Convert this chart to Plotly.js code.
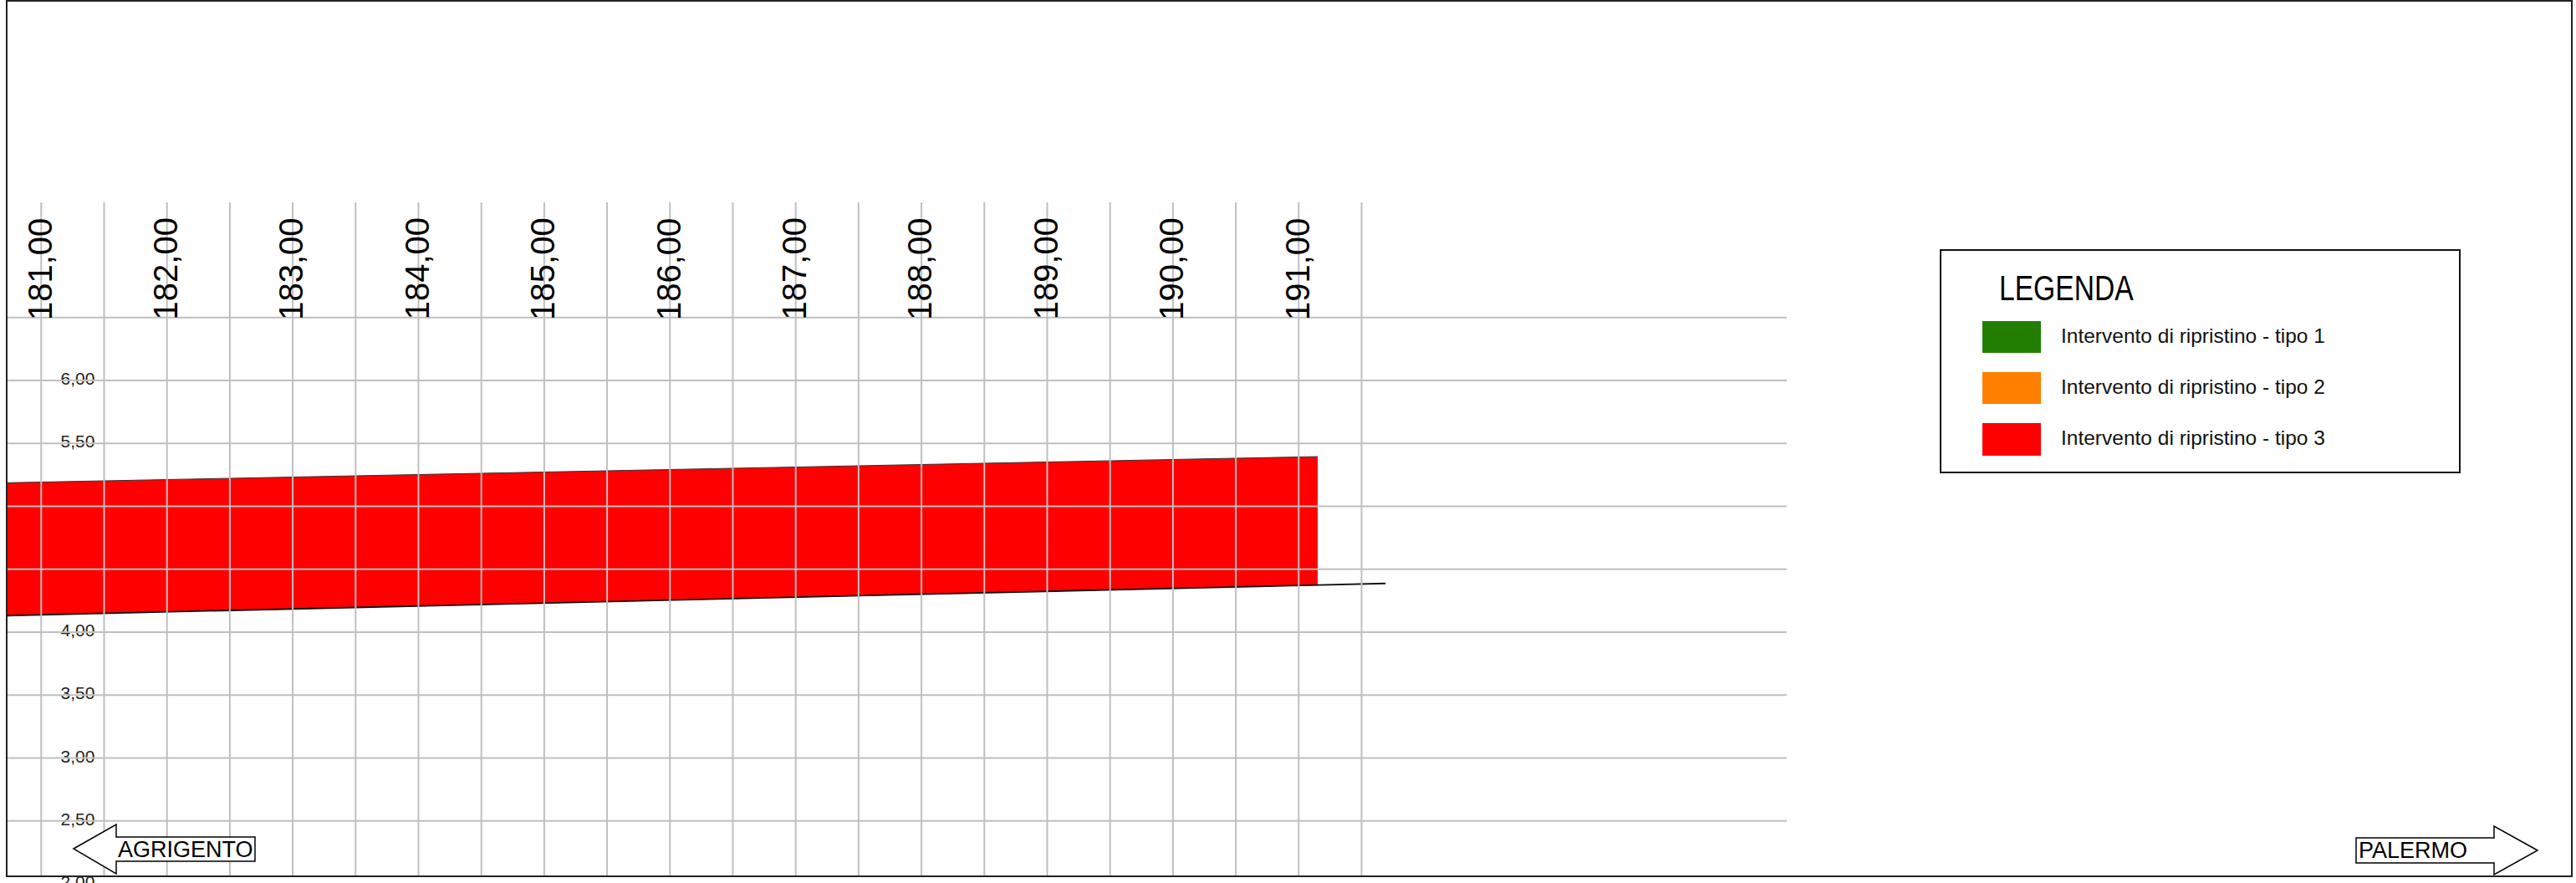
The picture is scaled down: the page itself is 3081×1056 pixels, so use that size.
<!DOCTYPE html>
<html><head><meta charset="utf-8">
<script src="https://cdn.plot.ly/plotly-3.0.1.min.js"></script>
<style>html,body{margin:0;padding:0;background:#fff;overflow:hidden}#chart{width:3081px;height:1056px}</style>
</head><body><div id="chart"></div>
<script>
// ---- data ----
const progressive = [181, 182, 183, 184, 185, 186, 187, 188, 189, 190, 191];
const progressiveLabels = ['181,00','182,00','183,00','184,00','185,00','186,00','187,00','188,00','189,00','190,00','191,00'];
const gridX = [181, 181.5, 182, 182.5, 183, 183.5, 184, 184.5, 185, 185.5, 186, 186.5, 187, 187.5, 188, 188.5, 189, 189.5, 190, 190.5, 191, 191.5];
const gridY = [2.5, 3.0, 3.5, 4.0, 4.5, 5.0, 5.5, 6.0, 6.5];
const quotaTicks = [2.0, 2.5, 3.0, 3.5, 4.0, 4.5, 5.0, 5.5, 6.0];
const quotaLabels = ['2,00','2,50','3,00','3,50','4,00','4,50','5,00','5,50','6,00'];
const interventoX = [180.725, 191.151];
const interventoTop = [5.187, 5.395];
const interventoBottom = [4.131, 4.372];
const profiloX = [180.725, 191.151, 191.691];
const profiloY = [4.131, 4.372, 4.387];
const legendItems = ['Intervento di ripristino - tipo 1', 'Intervento di ripristino - tipo 2', 'Intervento di ripristino - tipo 3'];
const legendColors = ['#217e00', '#ff8000', '#ff0000'];
const directions = ['AGRIGENTO', 'PALERMO'];

// ---- layout helpers ----
const W = 3081, H = 1056;
const XR = [180.6722, 201.1576], YR = [2.0061, 9.0237];
const P = px => px / W;
const Q = py => 1 - py / H;
const gridTopY = 7.4155, gridBottomY = 2.059, gridLeftX = 180.7254, gridRightX = 194.881;
const labelX = 181.29;
const FONT = 'Liberation Sans, Arial, sans-serif';

const vx = [], vy = [];
gridX.forEach(v => { vx.push(v, v, null); vy.push(gridBottomY, gridTopY, null); });
const hx = [], hy = [];
gridY.forEach(v => { hx.push(gridLeftX, gridRightX, null); hy.push(v, v, null); });

const traces = [
  { x: quotaTicks.map(() => labelX), y: quotaTicks, text: quotaLabels, mode: 'text', type: 'scatter',
    textposition: 'middle center', textfont: { family: FONT, size: 21, color: '#222' }, hoverinfo: 'skip' },
  { x: interventoX.concat(interventoX.slice().reverse()), y: interventoTop.concat(interventoBottom.slice().reverse()),
    type: 'scatter', mode: 'lines', fill: 'toself', fillcolor: '#ff0000', line: { width: 0, color: '#ff0000' }, hoverinfo: 'skip' },
  { x: interventoX, y: interventoTop, type: 'scatter', mode: 'lines', line: { width: 1, color: '#333' }, hoverinfo: 'skip' },
  { x: profiloX, y: profiloY, type: 'scatter', mode: 'lines', line: { width: 1.8, color: '#111' }, hoverinfo: 'skip' },
  { x: vx, y: vy, type: 'scatter', mode: 'lines', line: { width: 2, color: '#bfbfbf' }, hoverinfo: 'skip' },
  { x: hx, y: hy, type: 'scatter', mode: 'lines', line: { width: 2, color: '#bfbfbf' }, hoverinfo: 'skip' }
];

const annotations = progressive.map((v, i) => ({
  x: v, y: 6.5, xref: 'x', yref: 'y', text: progressiveLabels[i], showarrow: false, textangle: -90,
  xanchor: 'center', yanchor: 'bottom', yshift: -4, xshift: -2, borderpad: 0,
  font: { family: FONT, size: 40, color: '#000' }
}));

const shapes = [];
// legend box
shapes.push({ type: 'rect', xref: 'paper', yref: 'paper', x0: P(2321), x1: P(2942), y0: Q(565), y1: Q(299),
  line: { color: '#111', width: 2 }, fillcolor: 'rgba(0,0,0,0)', layer: 'above' });
annotations.push({ xref: 'paper', yref: 'paper', x: P(2390), y: Q(345), xanchor: 'left', yanchor: 'middle',
  text: 'LEGENDA', showarrow: false, borderpad: 0, font: { family: FONT, size: 42, color: '#000' } });
const swY = [[384, 422], [445, 483], [506, 545]];
const txtY = [401, 462, 523];
legendItems.forEach((t, i) => {
  shapes.push({ type: 'rect', xref: 'paper', yref: 'paper', x0: P(2371), x1: P(2441), y0: Q(swY[i][1]), y1: Q(swY[i][0]),
    line: { width: 0 }, fillcolor: legendColors[i], layer: 'above' });
  annotations.push({ xref: 'paper', yref: 'paper', x: P(2464), y: Q(txtY[i]), xanchor: 'left', yanchor: 'middle',
    text: t, showarrow: false, borderpad: 0, font: { family: FONT, size: 24.5, color: '#111' } });
});

// direction arrows
function pathFrom(pts) { return 'M' + pts.map(p => P(p[0]).toFixed(6) + ',' + Q(p[1]).toFixed(6)).join(' L') + ' Z'; }
shapes.push({ type: 'path', xref: 'paper', yref: 'paper', layer: 'above', fillcolor: '#fff', line: { color: '#000', width: 1.5 },
  path: pathFrom([[88, 1015], [139, 986], [139, 1001], [305, 1001], [305, 1030], [139, 1030], [139, 1045]]) });
shapes.push({ type: 'path', xref: 'paper', yref: 'paper', layer: 'above', fillcolor: '#fff', line: { color: '#000', width: 1.5 },
  path: pathFrom([[3035, 1017], [2983, 988], [2983, 1002], [2818, 1002], [2818, 1032], [2983, 1032], [2983, 1046]]) });
annotations.push({ xref: 'paper', yref: 'paper', x: P(140), y: Q(1016), xanchor: 'left', yanchor: 'middle', text: directions[0],
  showarrow: false, borderpad: 0, font: { family: FONT, size: 27, color: '#000' } });
annotations.push({ xref: 'paper', yref: 'paper', x: P(2820), y: Q(1017), xanchor: 'left', yanchor: 'middle', text: directions[1],
  showarrow: false, borderpad: 0, font: { family: FONT, size: 27, color: '#000' } });

// outer frame
shapes.push({ type: 'rect', xref: 'paper', yref: 'paper', x0: P(8), x1: P(3076), y0: Q(1048), y1: Q(1),
  line: { color: '#222', width: 2 }, fillcolor: 'rgba(0,0,0,0)', layer: 'above' });

const layout = {
  width: W, height: H, margin: { l: 0, r: 0, t: 0, b: 0, pad: 0 },
  paper_bgcolor: '#fff', plot_bgcolor: '#fff', showlegend: false,
  xaxis: { range: XR, visible: false, fixedrange: true },
  yaxis: { range: YR, visible: false, fixedrange: true },
  shapes: shapes, annotations: annotations
};

// condensed look of the legend title (the original uses a narrow typeface)
const narrowScale = { 'LEGENDA': 0.8 };

Plotly.newPlot('chart', traces, layout, { staticPlot: true, displayModeBar: false }).then(gd => {
  gd.querySelectorAll('text.annotation-text').forEach(el => {
    const s = narrowScale[el.textContent];
    if (!s) return;
    const bb = el.getBBox();
    const prev = el.getAttribute('transform') || '';
    el.setAttribute('transform', (prev + ' translate(' + bb.x + ',0) scale(' + s + ',1) translate(' + (-bb.x) + ',0)').trim());
  });
});
</script></body></html>
